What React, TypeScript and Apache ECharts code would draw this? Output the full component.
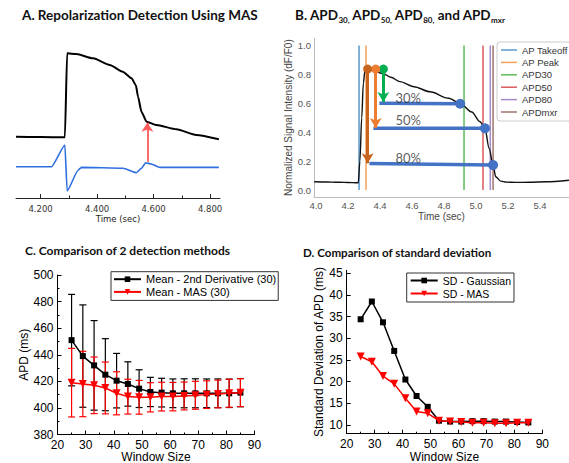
import React, { useEffect, useRef } from "react";
import * as echarts from "echarts";

// ---------- Panel A: optical AP trace and MAS trace ----------
const aApTime = [4.113, 4.2, 4.286, 4.294, 4.327, 4.386, 4.445, 4.491, 4.522, 4.537, 4.545, 4.557, 4.575, 4.61, 4.681, 4.751, 4.831];
const aApSignal = [38.8, 38.6, 38.4, 91.6, 91.1, 88.4, 84.2, 79.9, 75.8, 71.5, 64.1, 54.6, 48.3, 46.2, 43.5, 39.9, 37.2];
const aMasTime = [4.113, 4.239, 4.286, 4.294, 4.333, 4.345, 4.492, 4.539, 4.557, 4.572, 4.592, 4.622, 4.831];
const aMasSignal = [19.8, 19.8, 33.5, 4.4, 17.7, 19.4, 18.8, 16.0, 18.8, 22.3, 21.5, 19.4, 19.4];
const aArrowTime = 4.578;
const aArrowFrom = 23;
const aArrowTo = 47.7;
const aTickValues = [4.2, 4.4, 4.6, 4.8];
const aMinorTickValues = [4.3, 4.5, 4.7];

// ---------- Panel B: APD detection ----------
const bTime = [3.9886, 4.0453, 4.0969, 4.1484, 4.2, 4.2516, 4.2639, 4.2743, 4.2856, 4.2959, 4.3062, 4.3217, 4.3444, 4.3856, 4.4207, 4.4681, 4.5248, 4.6125, 4.7125, 4.8291, 4.9012, 4.9734, 5.025, 5.0559, 5.0817, 5.1065, 5.123, 5.1539, 5.19, 5.2477, 5.3344, 5.4375, 5.581];
const bSignal = [0.057, 0.056, 0.055, 0.054, 0.052, 0.051, 0.05, 0.2, 0.5, 0.74, 0.83, 0.845, 0.832, 0.815, 0.805, 0.78, 0.75, 0.715, 0.68, 0.635, 0.6, 0.54, 0.473, 0.427, 0.289, 0.173, 0.092, 0.062, 0.055, 0.053, 0.054, 0.057, 0.068];
const bEventNames = ["AP Takeoff", "AP Peak", "APD30", "APD50", "APD80", "APDmxr"];
const bEventTimes = [4.269, 4.3124, 4.925, 5.0436, 5.0891, 5.1065];
const bLevelNames = ["30%", "50%", "80%"];
const bLevelStart = [4.3959, 4.3588, 4.334];
const bLevelEnd = [4.9012, 5.0559, 5.1065];
const bLevelStartValue = [0.6, 0.428, 0.184];
const bLevelEndValue = [0.597, 0.427, 0.173];
const bArrowTimes = [4.4207, 4.3732, 4.3227];
const bArrowTop = 0.837;
const bArrowEnds = [0.61, 0.43, 0.185];
const bLabelTime = 4.5764;
const bLabelValues = [0.64, 0.484, 0.224];
const bXTicks = [4.0, 4.2, 4.4, 4.6, 4.8, 5.0, 5.2, 5.4];
const bYTicks = [0, 0.2, 0.4, 0.6, 0.8, 1.0];

// ---------- Panels C & D: window size comparison ----------
const windowSizes = [25, 29, 33, 37, 41, 45, 49, 53, 57, 61, 65, 69, 73, 77, 81, 85];
const meanDeriv = [451, 439, 432, 425, 420.5, 418, 414.5, 412, 411.5, 411, 411, 411, 411, 411, 411, 411.5];
const meanMas = [419, 418, 417, 415, 411, 408.5, 408, 408, 408.5, 408.5, 409, 409.5, 410, 410.5, 411, 411.5];
const sdGaussian = [34.4, 38.5, 33.7, 27.1, 20.5, 16.7, 14.2, 11.0, 10.8, 10.8, 10.9, 10.9, 10.8, 10.8, 10.7, 10.6];
const sdMas = [25.8, 24.6, 21.3, 19.5, 16.2, 13.1, 12.7, 11.0, 10.8, 10.7, 10.5, 10.5, 10.4, 10.4, 10.5, 10.5];
const dYTicks = [10, 15, 20, 25, 30, 35, 40, 45];

// ---------- styles ----------
const eventColors = ["#5b98cc", "#f5a25d", "#5dbb5d", "#db5a5b", "#a98bcb", "#a2756c"];
const arrowColors = ["#00b050", "#ed7d31", "#c8641e"];
const levelColor = "#4472c4";
const SANS = "Liberation Sans";
const titleStyle = { fontFamily: "Lato", fontWeight: "bold", fontSize: 13.5, color: "#111" };

const pairs = (xs: number[], ys: number[]) => xs.map((x, i) => [x, ys[i]]);

const errRender = (color: string) => (params: any, api: any) => {
  const x = api.value(0);
  const lo = api.coord([x, api.value(1)]);
  const hi = api.coord([x, api.value(2)]);
  const hw = 3.5;
  const style = { stroke: color, lineWidth: 1.2 };
  return {
    type: "group",
    children: [
      { type: "line", shape: { x1: lo[0], y1: lo[1], x2: hi[0], y2: hi[1] }, style },
      { type: "line", shape: { x1: lo[0] - hw, y1: lo[1], x2: lo[0] + hw, y2: lo[1] }, style },
      { type: "line", shape: { x1: hi[0] - hw, y1: hi[1], x2: hi[0] + hw, y2: hi[1] }, style },
    ],
  };
};

const originAxis = {
  type: "value",
  axisLine: { show: true, onZero: false, lineStyle: { color: "#000", width: 1 } },
  axisTick: { show: true, inside: true, length: 4, lineStyle: { color: "#000" } },
  minorTick: { show: true, splitNumber: 2, length: 2, lineStyle: { color: "#000" } },
  axisLabel: { fontFamily: SANS, fontSize: 12, color: "#000", margin: 4 },
  splitLine: { show: false },
  nameLocation: "middle",
  nameTextStyle: { fontFamily: SANS, fontSize: 12, color: "#000" },
};

function buildOption(): any {
  const series: any[] = [];

  // Panel A
  series.push({
    type: "line", xAxisIndex: 0, yAxisIndex: 0, data: pairs(aApTime, aApSignal),
    showSymbol: false, silent: true, lineStyle: { color: "#000", width: 2 }, smooth: 0.2, smoothMonotone: "x",
  });
  series.push({
    type: "line", xAxisIndex: 0, yAxisIndex: 0, data: pairs(aMasTime, aMasSignal),
    showSymbol: false, silent: true, lineStyle: { color: "#2f6fe0", width: 1.6 }, smooth: 0.15, smoothMonotone: "x",
  });
  series.push({
    type: "line", xAxisIndex: 0, yAxisIndex: 0, data: [],
    markLine: {
      silent: true, symbol: ["none", "arrow"], symbolSize: 9,
      lineStyle: { color: "#ff5a5a", width: 1.8, type: "solid" }, label: { show: false },
      data: [[{ coord: [aArrowTime, aArrowFrom] }, { coord: [aArrowTime, aArrowTo] }]],
    },
  });

  // Panel B
  bEventNames.forEach((n, i) => {
    series.push({
      name: n, type: "line", xAxisIndex: 2, yAxisIndex: 1,
      data: [[bEventTimes[i], 0], [bEventTimes[i], 1]], showSymbol: false, silent: true,
      lineStyle: { color: eventColors[i], width: 1.5 }, itemStyle: { color: eventColors[i] }, z: 1,
    });
  });
  series.push({
    type: "line", xAxisIndex: 2, yAxisIndex: 1, data: pairs(bTime, bSignal), showSymbol: false, silent: true,
    lineStyle: { color: "#111", width: 1.4 }, smooth: 0.3, smoothMonotone: "x", z: 2,
  });
  series.push({
    type: "line", xAxisIndex: 2, yAxisIndex: 1, data: [], z: 3,
    markLine: {
      silent: true, symbol: ["none", "none"],
      lineStyle: { color: levelColor, width: 3.5, type: "solid" }, label: { show: false },
      data: bLevelNames.map((_, i) => [
        { coord: [bLevelStart[i], bLevelStartValue[i]] },
        { coord: [bLevelEnd[i], bLevelEndValue[i]] },
      ]),
    },
  });
  series.push({
    type: "scatter", xAxisIndex: 2, yAxisIndex: 1, data: pairs(bLevelEnd, bLevelEndValue), silent: true,
    symbol: "circle", symbolSize: 10, itemStyle: { color: levelColor, opacity: 1 }, z: 4,
  });
  bArrowTimes.forEach((t, i) => {
    series.push({
      type: "line", xAxisIndex: 2, yAxisIndex: 1, data: [], z: 4,
      markLine: {
        silent: true, symbol: ["circle", "arrow"], symbolSize: [9, 10],
        lineStyle: { color: arrowColors[i], width: 3, type: "solid" }, itemStyle: { color: arrowColors[i] }, label: { show: false },
        data: [[{ coord: [t, bArrowTop] }, { coord: [t, bArrowEnds[i]] }]],
      },
    });
  });
  series.push({
    type: "scatter", xAxisIndex: 2, yAxisIndex: 1, symbolSize: 1, silent: true, z: 5,
    itemStyle: { color: "rgba(0,0,0,0)" },
    data: bLabelValues.map((v, i) => ({ value: [bLabelTime, v], name: bLevelNames[i] })),
    label: { show: true, position: "inside", formatter: "{b}", fontFamily: "Lato", fontSize: 13, color: "#333" },
  });

  // Panel C
  series.push({
    type: "custom", xAxisIndex: 3, yAxisIndex: 2, renderItem: errRender("#000"), encode: { x: 0, y: [1, 2] }, z: 2, silent: true,
    data: windowSizes.map((w, i) => [w, meanDeriv[i] - sdGaussian[i], meanDeriv[i] + sdGaussian[i]]),
  });
  series.push({
    type: "custom", xAxisIndex: 3, yAxisIndex: 2, renderItem: errRender("#ff0000"), encode: { x: 0, y: [1, 2] }, z: 3, silent: true,
    data: windowSizes.map((w, i) => [w, meanMas[i] - sdMas[i], meanMas[i] + sdMas[i]]),
  });
  series.push({
    name: "Mean - 2nd Derivative (30)", type: "line", xAxisIndex: 3, yAxisIndex: 2, data: pairs(windowSizes, meanDeriv),
    symbol: "rect", symbolSize: 6, lineStyle: { color: "#000", width: 1.5 }, itemStyle: { color: "#000" }, z: 4,
  });
  series.push({
    name: "Mean - MAS (30)", type: "line", xAxisIndex: 3, yAxisIndex: 2, data: pairs(windowSizes, meanMas),
    symbol: "triangle", symbolRotate: 180, symbolSize: 8, lineStyle: { color: "#ff0000", width: 1.5 }, itemStyle: { color: "#ff0000" }, z: 5,
  });

  // Panel D
  series.push({
    name: "SD - Gaussian", type: "line", xAxisIndex: 4, yAxisIndex: 3, data: pairs(windowSizes, sdGaussian),
    symbol: "rect", symbolSize: 6, lineStyle: { color: "#000", width: 1.5 }, itemStyle: { color: "#000" }, z: 4,
  });
  series.push({
    name: "SD - MAS", type: "line", xAxisIndex: 4, yAxisIndex: 3, data: pairs(windowSizes, sdMas),
    symbol: "triangle", symbolRotate: 180, symbolSize: 8, lineStyle: { color: "#ff0000", width: 1.5 }, itemStyle: { color: "#ff0000" }, z: 5,
  });

  return {
    animation: false,
    backgroundColor: "#fff",
    textStyle: { fontFamily: SANS },
    title: [
      { text: "A. Repolarization Detection Using MAS", left: 22, top: 8, padding: 0, textStyle: titleStyle },
      {
        text: "B. APD{s|30,} APD{s|50,} APD{s|80,} and APD{s|mxr}", left: 295, top: 6, padding: 0,
        textStyle: {
          ...titleStyle, lineHeight: 18,
          rich: { s: { fontFamily: "Lato", fontWeight: "bold", fontSize: 8, lineHeight: 10, verticalAlign: "bottom", color: "#111" } },
        },
      },
      { text: "C. Comparison of 2 detection methods", left: 25, top: 244, padding: 0, textStyle: { ...titleStyle, fontSize: 12 } },
      { text: "D. Comparison of standard deviation", left: 303, top: 246, padding: 0, textStyle: { ...titleStyle, fontSize: 11.6 } },
    ],
    legend: [
      {
        data: bEventNames, left: 497, top: 42, orient: "vertical", icon: "rect", itemWidth: 16, itemHeight: 1.5,
        itemGap: 0.4, padding: [2, 8, 3, 4], backgroundColor: "#fff", borderColor: "#ccc", borderWidth: 1, borderRadius: 3,
        selectedMode: false, textStyle: { fontFamily: SANS, fontSize: 9.5, color: "#333", lineHeight: 12 },
      },
      {
        data: ["Mean - 2nd Derivative (30)", "Mean - MAS (30)"], left: 111, top: 271.7, orient: "vertical",
        itemWidth: 27, itemHeight: 7, itemGap: 1.7, padding: [2, 2, 3, 2], borderColor: "#333", borderWidth: 1,
        selectedMode: false, textStyle: { fontFamily: SANS, fontSize: 11, color: "#000", lineHeight: 11 },
      },
      {
        data: ["SD - Gaussian", "SD - MAS"], left: 406.7, top: 273, orient: "vertical",
        itemWidth: 27, itemHeight: 7, itemGap: 2, padding: [2, 3, 3, 3], borderColor: "#333", borderWidth: 1,
        selectedMode: false, textStyle: { fontFamily: SANS, fontSize: 10.5, color: "#000", lineHeight: 11 },
      },
    ],
    grid: [
      { left: 16, top: 40, width: 204, height: 158, outerBoundsMode: "none" },
      { left: 314, top: 38.3, width: 255, height: 158.7, outerBoundsMode: "none" },
      { left: 57.5, top: 275, width: 197, height: 159.5, outerBoundsMode: "none" },
      { left: 346.7, top: 270.3, width: 195.6, height: 163.4, outerBoundsMode: "none" },
    ],
    xAxis: [
      {
        gridIndex: 0, type: "value", min: 4.113, max: 4.835,
        axisLine: { show: true, onZero: false, lineStyle: { color: "#222", width: 1 } },
        axisTick: { show: true, inside: true, length: 4, customValues: aTickValues, lineStyle: { color: "#222" } },
        axisLabel: { customValues: aTickValues, formatter: (v: number) => v.toFixed(3), fontFamily: "DejaVu Sans", fontSize: 8.5, color: "#333", margin: 6 },
        splitLine: { show: false },
        name: "Time (sec)", nameLocation: "middle", nameGap: 16,
        nameTextStyle: { fontFamily: "DejaVu Sans", fontSize: 8.5, color: "#222" },
      },
      {
        gridIndex: 0, type: "value", min: 4.113, max: 4.835, position: "bottom",
        axisLine: { show: false, onZero: false },
        axisTick: { show: true, inside: true, length: 2.5, customValues: aMinorTickValues, lineStyle: { color: "#222" } },
        axisLabel: { show: false }, splitLine: { show: false },
      },
      {
        gridIndex: 1, type: "value", min: 3.9875, max: 5.581,
        axisLine: { show: true, onZero: false, lineStyle: { color: "#bbb", width: 1 } },
        axisTick: { show: false },
        axisLabel: { customValues: bXTicks, formatter: (v: number) => v.toFixed(1), fontFamily: SANS, fontSize: 9.5, color: "#555", margin: 3 },
        splitLine: { show: false },
        name: "Time (sec)", nameLocation: "middle", nameGap: 14,
        nameTextStyle: { fontFamily: SANS, fontSize: 10, color: "#444" },
      },
      { ...originAxis, gridIndex: 2, min: 20, max: 90, interval: 10, name: "Window Size", nameGap: 16 },
      { ...originAxis, gridIndex: 3, min: 20, max: 90, interval: 10, name: "Window Size", nameGap: 17 },
    ],
    yAxis: [
      { gridIndex: 0, type: "value", min: 0, max: 100, show: false },
      {
        gridIndex: 1, type: "value", min: -0.048, max: 1.05,
        axisLine: { show: true, onZero: false, lineStyle: { color: "#bbb", width: 1 } },
        axisTick: { show: false },
        axisLabel: { customValues: bYTicks, formatter: (v: number) => v.toFixed(1), fontFamily: SANS, fontSize: 9.5, color: "#555", margin: 3 },
        splitLine: { show: false },
        name: "Normalized Signal Intensity (dF/F0)", nameLocation: "middle", nameGap: 20,
        nameTextStyle: { fontFamily: SANS, fontSize: 10, color: "#444" },
      },
      { ...originAxis, gridIndex: 2, min: 380, max: 500, interval: 20, name: "APD (ms)", nameGap: 23 },
      {
        ...originAxis, gridIndex: 3, min: 8, max: 45.7,
        axisTick: { ...originAxis.axisTick, customValues: dYTicks },
        minorTick: { show: false },
        axisLabel: { ...originAxis.axisLabel, customValues: dYTicks, margin: 4 },
        name: "Standard Deviation of APD (ms)", nameGap: 20,
      },
    ],
    series,
  };
}

export default function App() {
  const ref = useRef<HTMLDivElement>(null);
  useEffect(() => {
    if (!ref.current) return;
    const chart = echarts.init(ref.current, null, { renderer: "svg" });
    chart.setOption(buildOption());
    return () => chart.dispose();
  }, []);
  return (
    <div
      ref={ref}
      style={{ position: "fixed", left: 0, top: 0, width: 569, height: 463, background: "#fff" }}
    />
  );
}
